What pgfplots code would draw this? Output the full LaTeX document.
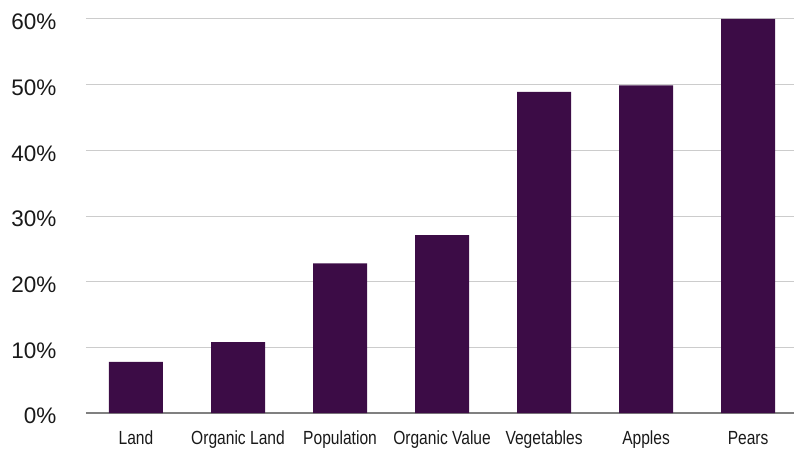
\documentclass[border=0pt]{standalone}
\usepackage{fontspec}
\setmainfont{Liberation Sans}
\newfontfamily\narrowfont[FakeStretch=0.82]{Liberation Sans}
\usepackage{pgfplots}
\pgfplotsset{compat=1.18}
\usetikzlibrary{calc}
\definecolor{barc}{RGB}{60,12,70}
\definecolor{gridc}{RGB}{204,204,204}
\definecolor{axisc}{RGB}{128,128,128}
\begin{document}
\begin{tikzpicture}
\begin{axis}[
  scale only axis,
  width=708pt, height=394pt,
  ymin=0, ymax=60,
  xmin=-0.49, xmax=6.45,
  ybar, bar width=54pt,
  axis lines*=left,
  y axis line style={draw=none},
  x axis line style={draw=axisc, line width=1.2pt},
  major tick length=0pt,
  ytick={0,10,...,60},
  yticklabel={\pgfmathprintnumber{\tick}\%},
  /pgf/number format/assume math mode=true,
  ymajorgrids,
  grid style={draw=gridc, line width=1pt},
  xtick=data,
  xticklabels={Land,Organic Land,Population,Organic Value,Vegetables,Apples,Pears},
  x tick label style={font=\narrowfont\fontsize{19}{21}\selectfont, anchor=base, yshift=-31pt, text=black!90},
  y tick label style={font=\fontsize{22.5}{25}\selectfont, xshift=-26pt, yshift=-3pt, text=black!90},
  clip=false,
]
\addplot[fill=barc, draw=none] coordinates {
(0,7.8) (1,10.8) (2,22.8) (3,27.1) (4,48.9) (5,49.9) (6,60.0)
};
\end{axis}
\pgfresetboundingbox
\path[use as bounding box] ($(current axis.south west)+(-86pt,-37pt)$) rectangle ($(current axis.north east)+(0,19pt)$);
\end{tikzpicture}
\end{document}
